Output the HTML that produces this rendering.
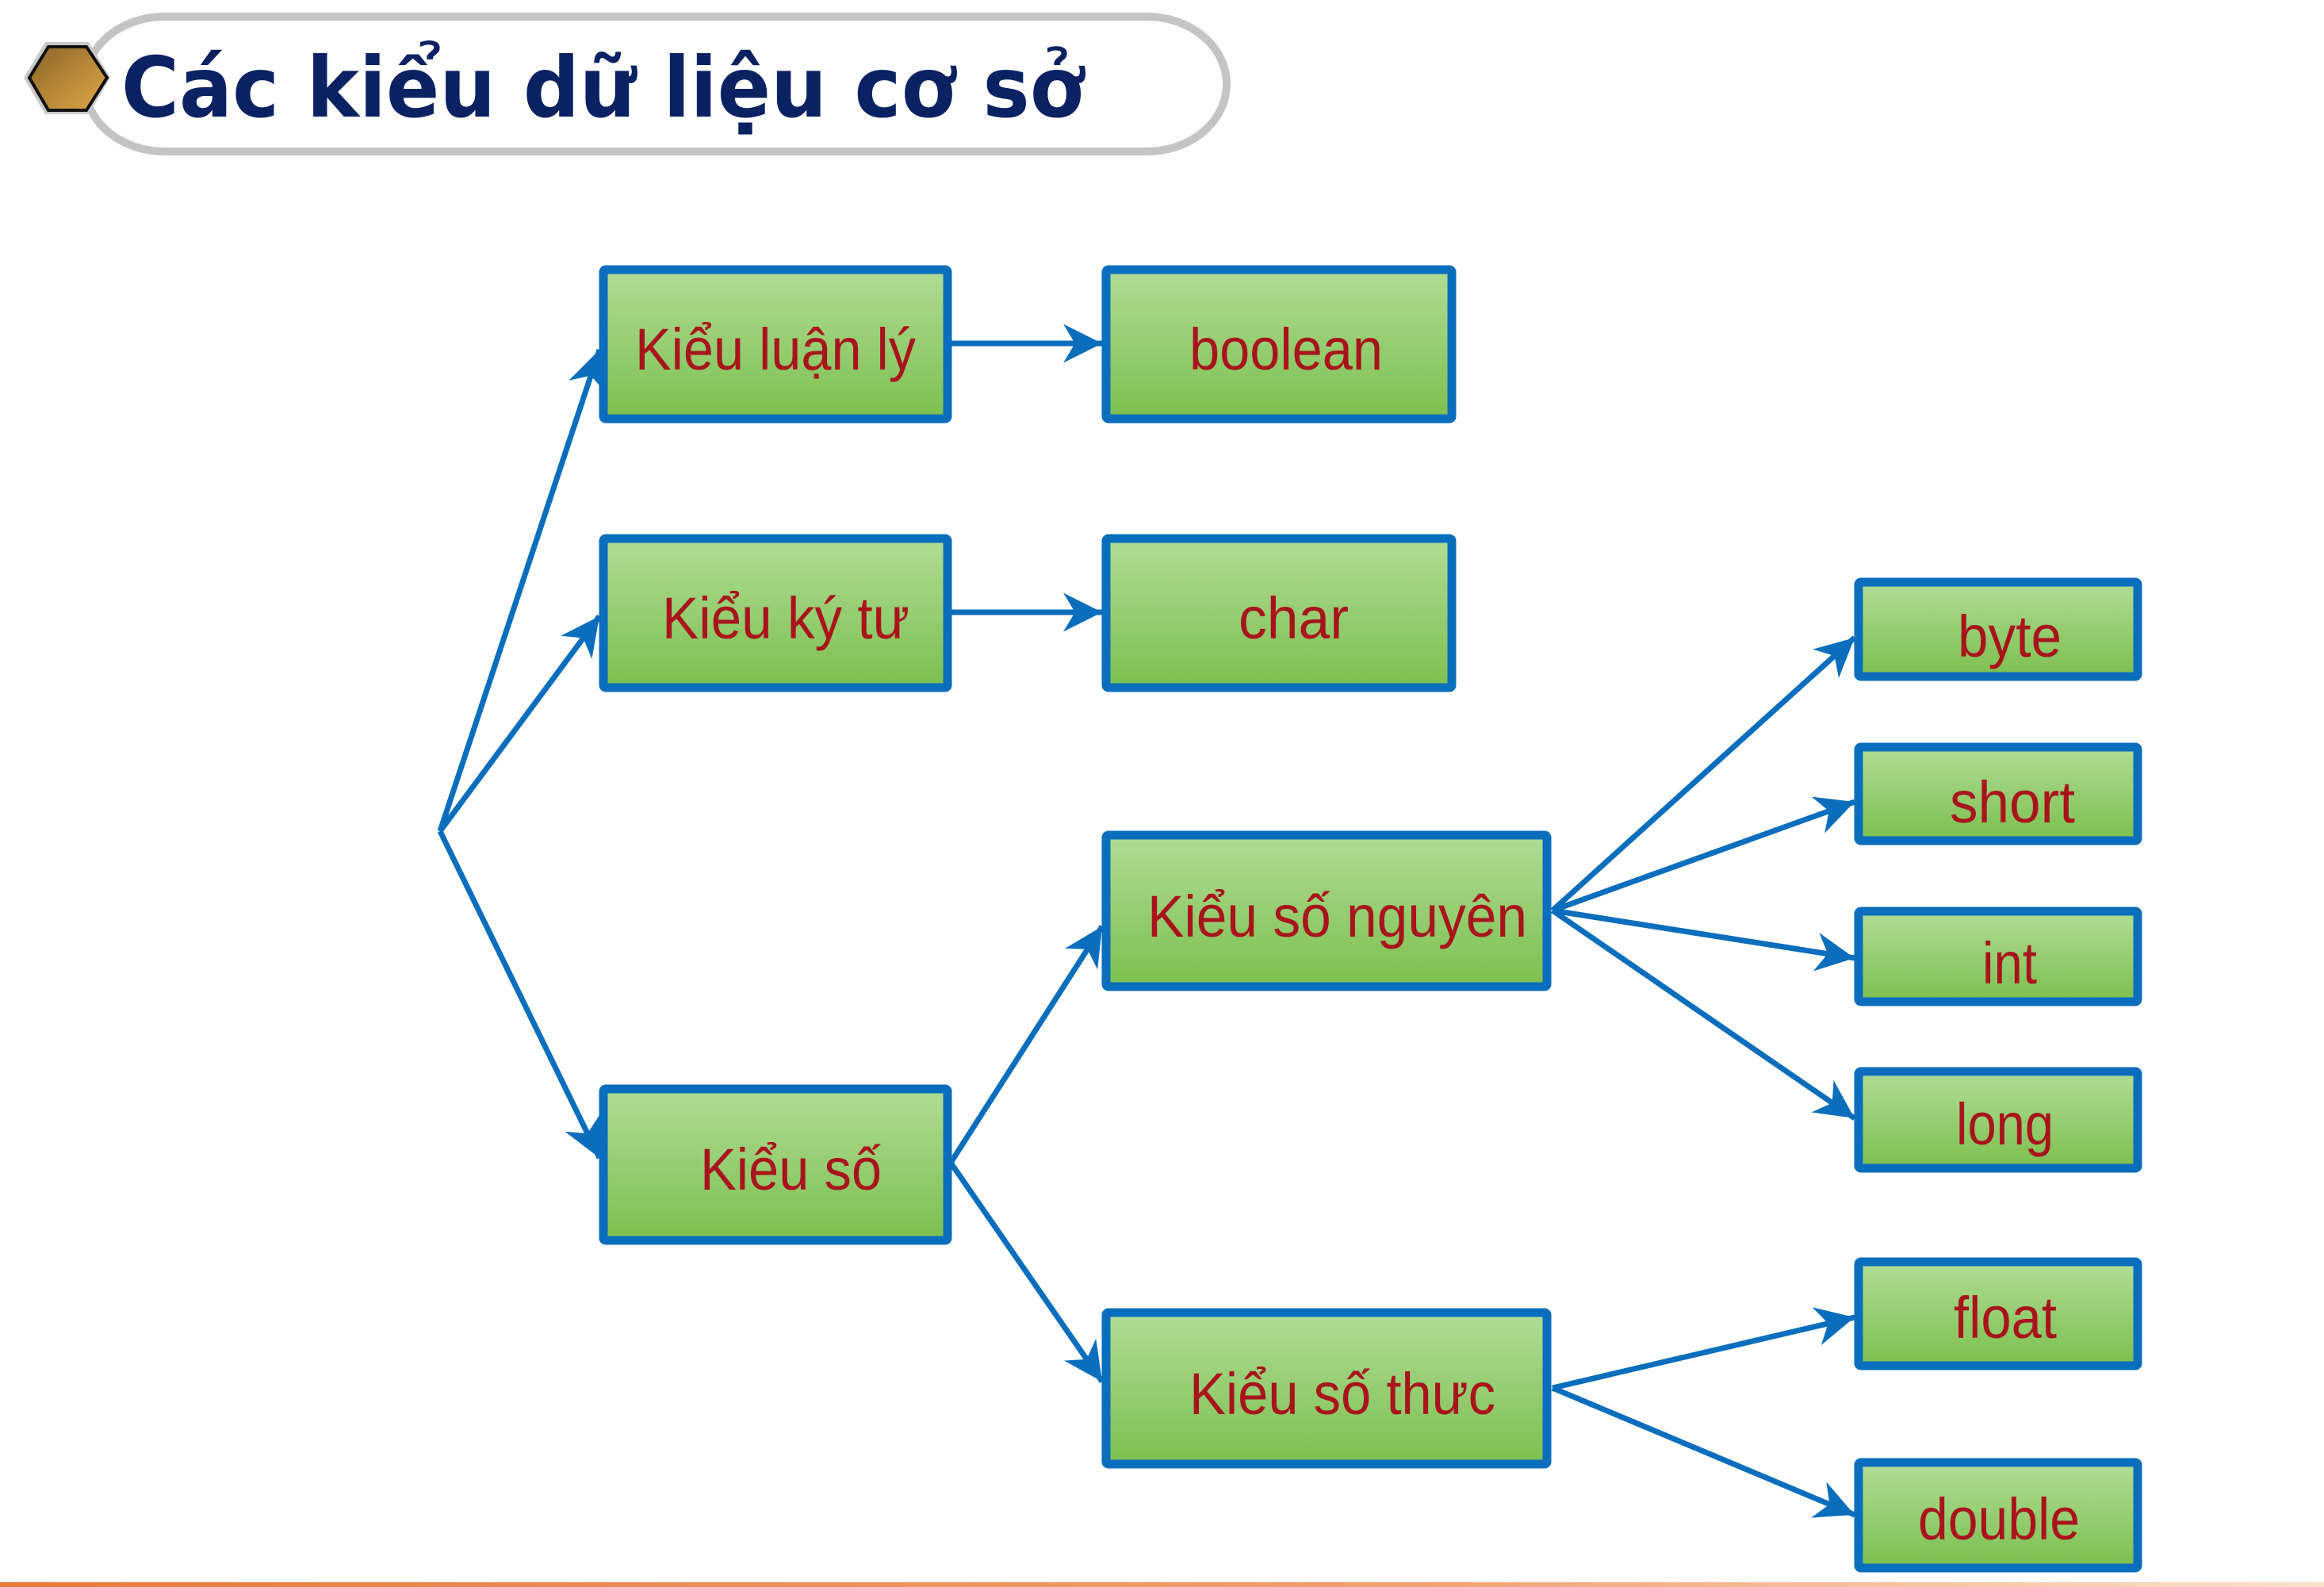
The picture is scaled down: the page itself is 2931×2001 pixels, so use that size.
<!DOCTYPE html>
<html><head><meta charset="utf-8"><style>
html,body{margin:0;padding:0;background:#fff;}
svg{display:block;}
</style></head><body>
<svg width="2931" height="2001" viewBox="0 0 2931 2001" xmlns="http://www.w3.org/2000/svg">
<defs>
<linearGradient id="g" x1="0" y1="0" x2="0" y2="1">
<stop offset="0" stop-color="#b0dc95"/><stop offset="1" stop-color="#7cbf4f"/>
</linearGradient>
<linearGradient id="gold" x1="0" y1="0" x2="1" y2="1">
<stop offset="0" stop-color="#8a6428"/><stop offset="1" stop-color="#e0a848"/>
</linearGradient>
<linearGradient id="or" x1="0" y1="0" x2="1" y2="0">
<stop offset="0" stop-color="#e87a3a"/><stop offset="0.6" stop-color="#f0a070"/><stop offset="1" stop-color="#fbe0cc"/>
</linearGradient>
<marker id="a" viewBox="0 0 10 10" refX="10" refY="5" markerWidth="7" markerHeight="7" markerUnits="strokeWidth" orient="auto">
<path d="M0,0 L10,5 L0,10 L3,5 z" fill="#0a6ebd"/>
</marker>
</defs>
<rect x="0" y="1995" width="2931" height="6" fill="url(#or)"/>
<!-- title pill -->
<rect x="107" y="21" width="1440" height="170" rx="100" ry="85" fill="#fff" stroke="#c4c4c4" stroke-width="10"/>
<polygon points="30,98 57,53 112,53 139,98 112,144 57,144" fill="#c8c8c8"/>
<polygon points="37,98 61,59 109,59 135,98 109,139 61,139" fill="url(#gold)" stroke="#111" stroke-width="4"/>
<text x="153" y="147" font-family="DejaVu Sans, Liberation Sans, sans-serif" font-weight="bold" font-size="105" fill="#0b2262" textLength="1214" lengthAdjust="spacingAndGlyphs">Các kiểu dữ liệu cơ sở</text>
<!-- connectors -->
<g stroke="#0a6ebd" stroke-width="7" fill="none" marker-end="url(#a)">
<line x1="555" y1="1048" x2="756" y2="441"/>
<line x1="555" y1="1048" x2="756" y2="777"/>
<line x1="555" y1="1048" x2="756" y2="1460"/>
<line x1="1199" y1="433" x2="1390" y2="433"/>
<line x1="1199" y1="772" x2="1390" y2="772"/>
<line x1="1199" y1="1466" x2="1390" y2="1168"/>
<line x1="1199" y1="1466" x2="1390" y2="1742"/>
<line x1="1958" y1="1148" x2="2339" y2="804"/>
<line x1="1958" y1="1148" x2="2339" y2="1011"/>
<line x1="1958" y1="1148" x2="2339" y2="1208"/>
<line x1="1958" y1="1148" x2="2339" y2="1410"/>
<line x1="1958" y1="1750" x2="2339" y2="1661"/>
<line x1="1958" y1="1750" x2="2339" y2="1910"/>
</g>
<!-- boxes -->
<g fill="url(#g)" stroke="#0a6ebd" stroke-width="11">
<rect x="761" y="340" width="434" height="188" rx="3"/>
<rect x="1395" y="340" width="436" height="188" rx="3"/>
<rect x="761" y="679" width="434" height="188" rx="3"/>
<rect x="1395" y="679" width="436" height="188" rx="3"/>
<rect x="1395" y="1053" width="556" height="191" rx="3"/>
<rect x="761" y="1373" width="434" height="191" rx="3"/>
<rect x="1395" y="1655" width="556" height="191" rx="3"/>
<rect x="2344" y="734" width="352" height="119" rx="3"/>
<rect x="2344" y="942" width="352" height="118" rx="3"/>
<rect x="2344" y="1149" width="352" height="114" rx="3"/>
<rect x="2344" y="1351" width="352" height="122" rx="3"/>
<rect x="2344" y="1591" width="352" height="131" rx="3"/>
<rect x="2344" y="1844" width="352" height="133" rx="3"/>
</g>
<g font-family="Liberation Sans, sans-serif" font-size="74" fill="#a8141c">
<text x="801" y="466" textLength="354" lengthAdjust="spacingAndGlyphs">Kiểu luận lý</text>
<text x="1500" y="466" textLength="244" lengthAdjust="spacingAndGlyphs">boolean</text>
<text x="835" y="805" textLength="312" lengthAdjust="spacingAndGlyphs">Kiểu ký tư</text>
<text x="1562" y="805" textLength="139" lengthAdjust="spacingAndGlyphs">char</text>
<text x="1447" y="1181" textLength="479" lengthAdjust="spacingAndGlyphs">Kiểu số nguyên</text>
<text x="883" y="1500" textLength="229" lengthAdjust="spacingAndGlyphs">Kiểu số</text>
<text x="1500" y="1783" textLength="386" lengthAdjust="spacingAndGlyphs">Kiểu số thưc</text>
<text x="2469" y="828" textLength="131" lengthAdjust="spacingAndGlyphs">byte</text>
<text x="2459" y="1037" textLength="158" lengthAdjust="spacingAndGlyphs">short</text>
<text x="2500" y="1240" textLength="69" lengthAdjust="spacingAndGlyphs">int</text>
<text x="2467" y="1443" textLength="123" lengthAdjust="spacingAndGlyphs">long</text>
<text x="2464" y="1687" textLength="130" lengthAdjust="spacingAndGlyphs">float</text>
<text x="2419" y="1941" textLength="204" lengthAdjust="spacingAndGlyphs">double</text>
</g>
</svg>
</body></html>
